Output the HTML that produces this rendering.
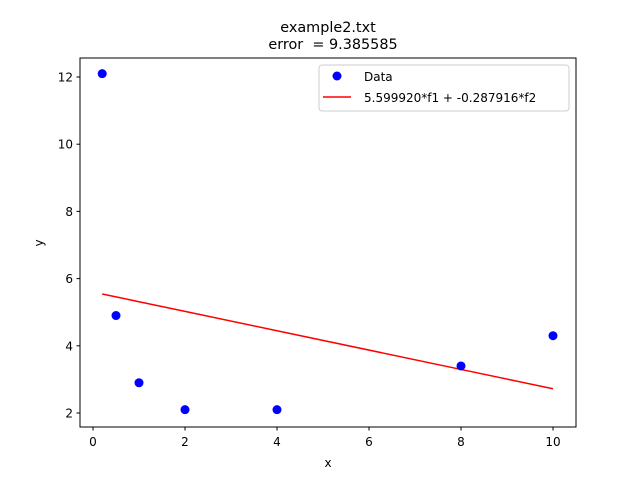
<!DOCTYPE html>
<html><head><meta charset="utf-8"><style>
body{margin:0;background:#fff;}
svg text{font-family:"DejaVu Sans","Liberation Sans",sans-serif;fill:#000;white-space:pre;}
</style></head><body>
<svg id="chart" width="640" height="480" xmlns="http://www.w3.org/2000/svg">
<rect width="640" height="480" fill="#fff"/>
<text x="328" y="32" font-size="14.4" text-anchor="middle">example2.txt</text>
<text x="333" y="49" font-size="14.4" text-anchor="middle">error &#160;= 9.385585</text>
<g id="plot"></g>
<rect x="80" y="58" width="496" height="369" fill="none" stroke="#000" stroke-width="1"/>
<text x="328" y="467" font-size="12" text-anchor="middle">x</text>
<text x="0" y="0" font-size="12" text-anchor="middle" transform="translate(43,243) rotate(-90)">y</text>
<g>
<rect x="319" y="65" width="250" height="46" rx="3" fill="#fff" stroke="#ccc"/>
<circle cx="337" cy="76" r="4.5" fill="#0000ff"/>
<text x="364" y="81" font-size="12">Data</text>
<line x1="323" y1="97" x2="351" y2="97" stroke="#ff0000" stroke-width="1.5"/>
<text x="364" y="102" font-size="12">5.599920*f1 + -0.287916*f2</text>
</g>
</svg>
<script>
const xs=[0.2,0.5,1,2,4,8,10];
const ys=[12.1,4.9,2.9,2.1,2.1,3.4,4.3];
const coefs=[5.599920,-0.287916];
const xTicks=[0,2,4,6,8,10];
const yTicks=[2,4,6,8,10,12];
const NS="http://www.w3.org/2000/svg";
const sx=v=>93+v*46, sy=v=>413-(v-2)*33.6;
const g=document.getElementById('plot');
function mk(t,a){const e=document.createElementNS(NS,t);for(const k in a)e.setAttribute(k,a[k]);g.appendChild(e);return e;}
xTicks.forEach(t=>{
 const l=mk('line',{x1:sx(t),x2:sx(t),y1:427,y2:430.5,stroke:'#000'});
 
 
 const tx=mk('text',{x:sx(t),y:446,'font-size':12,'text-anchor':'middle'});tx.textContent=t;
 
 
});
yTicks.forEach(t=>{
 const l=mk('line',{x1:76.5,x2:80,y1:sy(t),y2:sy(t),stroke:'#000'});
 
 
 const tx=mk('text',{x:73,y:sy(t)+4.5,'font-size':12,'text-anchor':'end'});tx.textContent=t;
 
 
});
const pts=xs.map(x=>sx(x)+','+sy(coefs[0]+coefs[1]*x)).join(' ');
const fl=mk('polyline',{points:pts,fill:'none',stroke:'#ff0000','stroke-width':1.5});


xs.forEach((x,i)=>{
 const c=mk('circle',{cx:sx(x),cy:sy(ys[i]),r:4.5,fill:'#0000ff'});
 
 
});
</script>
</body></html>
